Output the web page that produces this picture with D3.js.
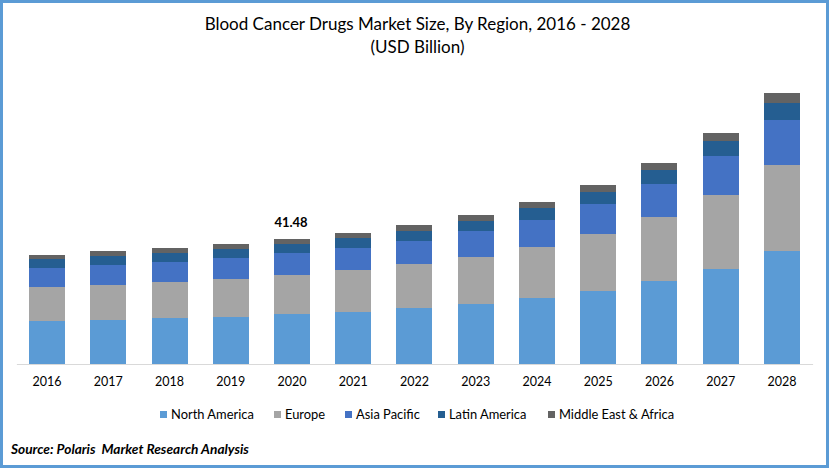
<!DOCTYPE html>
<html><head><meta charset="utf-8">
<script src="https://cdnjs.cloudflare.com/ajax/libs/d3/7.8.5/d3.min.js"></script>
<style>html,body{margin:0;padding:0;background:#fff}svg{display:block}text{font-family:Lato,"Open Sans",sans-serif}</style>
</head><body><svg id="c" width="829" height="468"></svg>
<script>
const years = ["2016","2017","2018","2019","2020","2021","2022","2023","2024","2025","2026","2027","2028"];
const seriesNames = ["North America","Europe","Asia Pacific","Latin America","Middle East & Africa"];
const seriesColors = ["#5b9bd5","#a5a5a5","#4472c4","#255e91","#636363"];
const northAmerica = [14.27,14.6,15.26,15.6,16.59,17.26,18.58,19.91,21.9,24.22,27.54,31.52,37.5];
const europe = [11.28,11.61,11.95,12.61,12.94,13.94,14.6,15.6,16.92,18.91,21.24,24.56,28.54];
const asiaPacific = [6.3,6.64,6.64,6.97,7.3,7.3,7.63,8.63,8.96,9.96,10.95,12.94,14.93];
const latinAmerica = [2.99,2.99,2.99,2.99,2.99,3.32,3.32,3.32,3.98,3.98,4.65,4.98,5.64];
const middleEastAfrica = [1.33,1.66,1.66,1.66,1.66,1.66,1.99,1.99,1.99,2.32,2.32,2.65,3.32];
const annotatedYear = "2020", annotatedValue = "41.48";
const titleLines = ["Blood Cancer Drugs Market Size, By Region, 2016 - 2028","(USD Billion)"];
const sourceText = "Source: Polaris  Market Research Analysis";

const svg = d3.select("#c");
svg.append("rect").attr("x",1.5).attr("y",1.5).attr("width",826).attr("height",465)
  .attr("fill","#fff").attr("stroke","#5b9bd5").attr("stroke-width",3);

const table = years.map((y,i)=>({year:y,"North America":northAmerica[i],"Europe":europe[i],"Asia Pacific":asiaPacific[i],"Latin America":latinAmerica[i],"Middle East & Africa":middleEastAfrica[i]}));
const x = d3.scaleBand().domain(years).range([16.4,812.6]).paddingInner(0.412).paddingOuter(0.206);
const y = d3.scaleLinear().domain([0,41.48]).rangeRound([364,239]);
const stack = d3.stack().keys(seriesNames)(table);

svg.append("g").selectAll("g").data(stack).join("g").attr("fill",(d,i)=>seriesColors[i])
  .selectAll("rect").data(d=>d).join("rect")
  .attr("x",d=>Math.round(x(d.data.year))).attr("width",36)
  .attr("y",d=>y(d[1])).attr("height",d=>y(d[0])-y(d[1]));

const axis = svg.append("g").attr("transform","translate(0,364)").call(d3.axisBottom(x).tickSize(0).tickPadding(13));
axis.select(".domain").attr("stroke","#d9d9d9").attr("stroke-width",1);
axis.selectAll("text").attr("font-size",12.5).attr("fill","#000");

const total = years.indexOf(annotatedYear);
svg.append("text").attr("x",x(annotatedYear)+x.bandwidth()/2-1).attr("y",y(d3.sum(stack,s=>s[total][1]-s[total][0]))-12)
  .attr("text-anchor","middle").attr("font-size",13).attr("font-weight",700).attr("fill","#000").text(annotatedValue);

svg.append("g").selectAll("text").data(titleLines).join("text")
  .attr("x",417.5).attr("y",(d,i)=>30+i*23).attr("text-anchor","middle").attr("font-size",17).attr("fill","#000").text(d=>d);

const legendX = [160,274,345,438,548];
const lg = svg.append("g").selectAll("g").data(seriesNames).join("g").attr("transform",(d,i)=>`translate(${legendX[i]},0)`);
lg.append("rect").attr("y",411).attr("width",7).attr("height",7).attr("fill",(d,i)=>seriesColors[i]);
lg.append("text").attr("x",11).attr("y",419).attr("font-size",12.9).attr("fill","#000").text(d=>d);

svg.append("text").attr("x",11).attr("y",454).attr("font-size",13.7).attr("font-weight",700).attr("font-style","italic").attr("fill","#000").attr("xml:space","preserve").text(sourceText);
</script></body></html>
